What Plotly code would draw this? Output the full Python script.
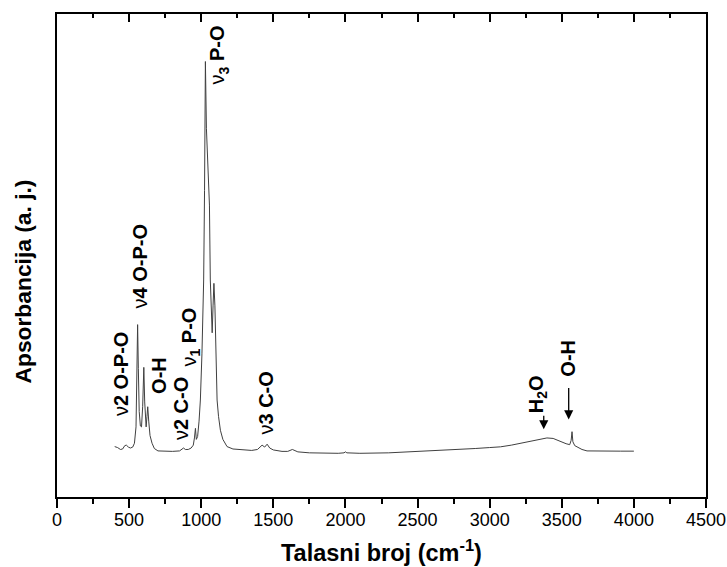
import plotly.graph_objects as go

# FTIR spectrum (wavenumber in cm^-1, absorbance in arbitrary units)
wavenumber = [
    400, 420, 440, 455, 470, 481, 495, 509, 525, 537, 548, 554, 559, 564, 570,
    578, 586, 594, 602, 608, 613, 618, 624, 629, 636, 645, 659, 675, 700, 750,
    800, 850, 868, 877, 890, 910, 930, 945, 953, 960, 966, 975, 985, 994, 1005,
    1012, 1017, 1023, 1029, 1036, 1045, 1057, 1063, 1070, 1076, 1082, 1088, 1095,
    1102, 1110, 1120, 1133, 1150, 1179, 1220, 1280, 1350, 1390, 1410, 1422, 1440,
    1457, 1475, 1500, 1560, 1600, 1632, 1670, 1750, 1850, 1950, 1990, 2000, 2010,
    2100, 2300, 2500, 2700, 2800, 2900, 3000, 3075, 3150, 3212, 3300, 3397, 3440,
    3490, 3530, 3555, 3565, 3571, 3577, 3590, 3606, 3640, 3675, 3750, 3906, 4000,
]
absorbance = [
    0.097, 0.095, 0.091, 0.092, 0.099, 0.100, 0.096, 0.094, 0.096, 0.104, 0.138,
    0.240, 0.351, 0.260, 0.170, 0.140, 0.138, 0.180, 0.262, 0.190, 0.145, 0.138,
    0.160, 0.180, 0.150, 0.120, 0.104, 0.093, 0.088, 0.087, 0.087, 0.088, 0.092,
    0.094, 0.091, 0.091, 0.094, 0.100, 0.115, 0.135, 0.112, 0.118, 0.150, 0.194,
    0.290, 0.380, 0.444, 0.630, 0.899, 0.760, 0.680, 0.600, 0.444, 0.360, 0.334,
    0.390, 0.437, 0.390, 0.280, 0.194, 0.160, 0.131, 0.112, 0.097, 0.092, 0.090,
    0.089, 0.091, 0.097, 0.100, 0.096, 0.102, 0.094, 0.090, 0.087, 0.087, 0.091,
    0.086, 0.084, 0.083, 0.083, 0.084, 0.086, 0.084, 0.083, 0.084, 0.0867, 0.089,
    0.091, 0.093, 0.095, 0.0965, 0.100, 0.1035, 0.108, 0.115, 0.114, 0.107, 0.103,
    0.101, 0.110, 0.128, 0.107, 0.099, 0.096, 0.091, 0.088, 0.0875, 0.0875, 0.0875,
]

# Band assignments
band_labels = [
    "<span style='font-weight:normal'>ν</span>2 O-P-O",
    "<span style='font-weight:normal'>ν</span>4 O-P-O",
    "O-H",
    "<span style='font-weight:normal'>ν</span>2 C-O",
    "<span style='font-weight:normal'>ν</span><sub>1</sub> P-O",
    "<span style='font-weight:normal'>ν</span><sub>3</sub> P-O",
    "<span style='font-weight:normal'>ν</span>3 C-O",
    "H<sub>2</sub>O",
    "O-H",
]
band_label_x = [440, 575, 703, 856, 925, 1119, 1452, 3331, 3546]
band_label_y = [0.249, 0.472, 0.245, 0.176, 0.325, 0.9125, 0.1875, 0.207, 0.281]

# Arrow tips for the water / hydroxyl bands and their pixel lengths
arrow_x = [3375, 3548]
arrow_y = [0.133, 0.1535]
arrow_len = [15, 33]

tick_vals = [0, 500, 1000, 1500, 2000, 2500, 3000, 3500, 4000, 4500]
tick_text = [str(v) for v in tick_vals]

label_font = "Liberation Sans, Arial, sans-serif"
tick_font = "Liberation Sans, Arial, sans-serif"

fig = go.Figure()
fig.add_trace(go.Scatter(
    x=wavenumber, y=absorbance, mode="lines",
    line=dict(color="#404040", width=1), hoverinfo="skip", showlegend=False,
))
# invisible copy carrying the top (mirrored) axis
fig.add_trace(go.Scatter(
    x=wavenumber, y=absorbance, mode="lines", xaxis="x2",
    line=dict(color="rgba(0,0,0,0)", width=0), hoverinfo="skip", showlegend=False,
))

for txt, x, y in zip(band_labels, band_label_x, band_label_y):
    fig.add_annotation(
        x=x, y=y, xref="x", yref="y", text=txt, showarrow=False,
        textangle=-90, xanchor="center", yanchor="middle",
        font=dict(family=label_font, size=20, color="black", weight="bold"),
    )

for x, y, n in zip(arrow_x, arrow_y, arrow_len):
    fig.add_annotation(
        x=x, y=y, xref="x", yref="y", text="", showarrow=True,
        ax=0, ay=-n, arrowhead=2, arrowsize=1.4, arrowwidth=1.3,
        arrowcolor="black", standoff=0,
    )

# axis titles
fig.add_annotation(
    x=0.5, y=0, xref="paper", yref="paper", yanchor="top", yshift=-37,
    text="Talasni broj (cm<sup>-1</sup>)", showarrow=False,
    font=dict(family=label_font, size=23.5, color="black", weight="bold"),
)
fig.add_annotation(
    x=0, y=0.5, xref="paper", yref="paper", xanchor="center", yanchor="middle",
    xshift=-35, yshift=-26, textangle=-90,
    text="Apsorbancija (a. j.)", showarrow=False,
    font=dict(family=label_font, size=22.8, color="black", weight="bold"),
)

common_x = dict(
    range=[0, 4500], tickvals=tick_vals, showgrid=False, zeroline=False,
    showline=True, linecolor="black", linewidth=1.5, automargin=False,
)
fig.update_layout(
    width=727, height=567,
    margin=dict(l=57, r=21, t=14, b=70),
    paper_bgcolor="white", plot_bgcolor="white",
    xaxis=dict(
        **common_x, mirror=True, ticktext=tick_text,
        ticks="outside", ticklen=9, tickwidth=1.5, tickcolor="black",
        tickfont=dict(family=tick_font, size=18, color="black"),
        ticklabelstandoff=-3,
        minor=dict(dtick=250, tick0=0, ticks="outside", ticklen=5,
                   tickwidth=1.5, tickcolor="black"),
    ),
    xaxis2=dict(
        **common_x, overlaying="x", side="top", matches="x",
        showticklabels=False, ticks="inside", ticklen=8, tickwidth=1.5,
        tickcolor="black",
        minor=dict(dtick=250, tick0=0, ticks="inside", ticklen=4,
                   tickwidth=1.5, tickcolor="black"),
    ),
    yaxis=dict(
        range=[-0.008, 0.998], showticklabels=False, ticks="",
        showgrid=False, zeroline=False, showline=True, mirror=True,
        linecolor="black", linewidth=1.5, automargin=False,
    ),
)

fig.write_html("out.html")
